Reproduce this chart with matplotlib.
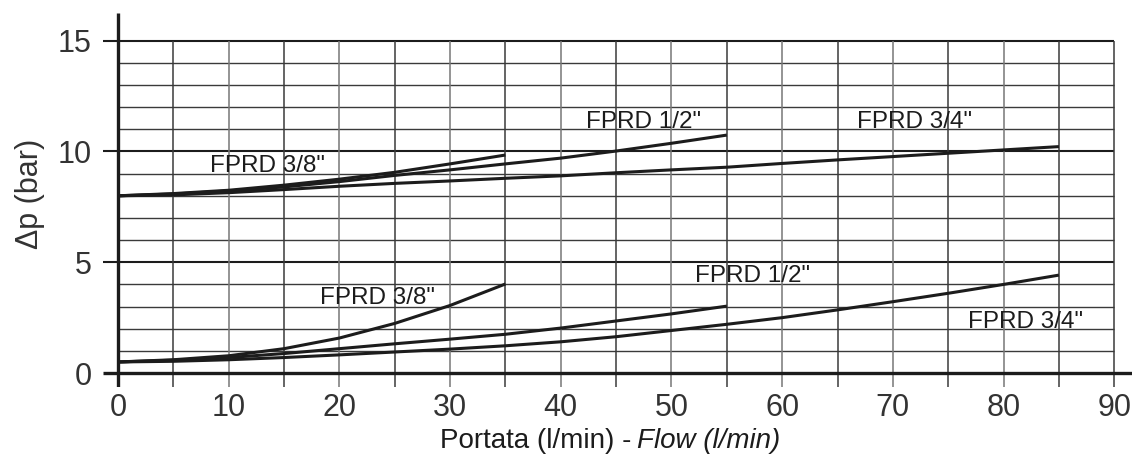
import matplotlib
matplotlib.use("Agg")
import matplotlib.pyplot as plt

# ---------------- data ----------------
flow_38 = [0, 5, 10, 15, 20, 25, 30, 35]
flow_12 = [0, 5, 10, 15, 20, 25, 30, 35, 40, 45, 50, 55]
flow_34 = [0, 5, 10, 15, 20, 25, 30, 35, 40, 45, 50, 55, 60, 65, 70, 75, 80, 85]

# upper group (curves starting at 8 bar)
dp_38_high = [8.00, 8.10, 8.25, 8.48, 8.75, 9.06, 9.44, 9.84]
dp_12_high = [8.00, 8.08, 8.22, 8.40, 8.64, 8.92, 9.17, 9.44, 9.70, 10.02, 10.37, 10.74]
dp_34_high = [8.00, 8.04, 8.14, 8.28, 8.43, 8.56, 8.67, 8.79, 8.90, 9.04, 9.17, 9.29,
              9.46, 9.62, 9.77, 9.92, 10.07, 10.22]

# lower group (curves starting at 0.5 bar)
dp_38_low = [0.50, 0.60, 0.78, 1.10, 1.58, 2.24, 3.05, 4.02]
dp_12_low = [0.50, 0.58, 0.70, 0.88, 1.10, 1.32, 1.53, 1.75, 2.03, 2.35, 2.67, 3.02]
dp_34_low = [0.50, 0.53, 0.60, 0.70, 0.82, 0.95, 1.08, 1.23, 1.41, 1.64, 1.92, 2.20,
             2.50, 2.85, 3.22, 3.60, 4.00, 4.42]

label_38 = 'FPRD 3/8"'
label_12 = 'FPRD 1/2"'
label_34 = 'FPRD 3/4"'

x_ticks = [0, 10, 20, 30, 40, 50, 60, 70, 80, 90]
y_ticks = [0, 5, 10, 15]
x_label_main = "Portata (l/min) -"
x_label_it = "Flow (l/min)"
y_label = "\u0394p (bar)"

# ---------------- figure ----------------
W, H = 1133, 463
fig = plt.figure(figsize=(W / 100, H / 100), dpi=100)
fig.patch.set_facecolor("white")

XMIN, XMAX = -1.4, 91.6
YMIN, YMAX = -0.63, 16.25
ax = fig.add_axes([102.5 / W, (H - 387) / H, 1029.5 / W, 374 / H])
ax.set_xlim(XMIN, XMAX)
ax.set_ylim(YMIN, YMAX)
for s in ax.spines.values():
    s.set_visible(False)
ax.set_facecolor("none")

dark = "#1c1c1c"
gridc = "#3a3a3a"

# horizontal grid lines
for yv in range(1, 16):
    if yv % 5 == 0:
        ax.hlines(yv, XMIN, 90, color=dark, lw=1.5, zorder=1)
    else:
        ax.hlines(yv, 0, 90, color=gridc, lw=1.0, zorder=1)
# vertical grid lines with tick stubs below the axis
for xv in range(5, 95, 5):
    c = "#777777" if xv % 10 == 0 and xv != 90 else gridc
    ax.vlines(xv, YMIN, 15, color=c, lw=1.1, zorder=1)

# axis lines
ax.hlines(0, XMIN, XMAX, color=dark, lw=2.4, zorder=3)
ax.vlines(0, YMIN, YMAX, color=dark, lw=2.4, zorder=3)

# curves
lw = 2.2
for fx, fy in [(flow_38, dp_38_high), (flow_12, dp_12_high), (flow_34, dp_34_high),
               (flow_38, dp_38_low), (flow_12, dp_12_low), (flow_34, dp_34_low)]:
    ax.plot(fx, fy, color=dark, lw=lw, solid_capstyle="butt", solid_joinstyle="round",
            zorder=4)

# curve labels
lab_font = dict(family=["Liberation Sans", "DejaVu Sans"], fontsize=17.5, color=dark,
                ha="left", va="baseline", zorder=5)
ax.text(8.31, 9.07, label_38, **lab_font)
ax.text(18.25, 3.12, label_38, **lab_font)
ax.text(42.3, 11.08, label_12, **lab_font)
ax.text(66.76, 11.06, label_34, **lab_font)
ax.text(52.1, 4.11, label_12, **lab_font)
ax.text(76.8, 2.03, label_34, **lab_font)

# tick labels
tick_font = dict(family=["Liberation Sans", "DejaVu Sans"], fontsize=22, color="#333333")
ax.set_xticks(x_ticks)
ax.set_xticklabels([str(v) for v in x_ticks], **tick_font)
ax.set_yticks(y_ticks)
ax.set_yticklabels([str(v) for v in y_ticks], **tick_font)
ax.tick_params(axis="x", length=0, pad=4)
ax.tick_params(axis="y", length=0, pad=8)

# axis titles
fig.text(30 / W, 1 - 194 / H, y_label, rotation=90, ha="center", va="center",
         family=["Liberation Sans", "DejaVu Sans"], fontsize=22, color="#333333")
fig.text(440 / W, (H - 448) / H, x_label_main, ha="left", va="baseline",
         family=["Liberation Sans", "DejaVu Sans"], fontsize=20, color=dark)
fig.text(637 / W, (H - 448) / H, x_label_it, ha="left", va="baseline",
         family=["Liberation Sans", "DejaVu Sans"], fontsize=20, style="italic", color=dark)

fig.savefig("out.png", dpi=100)
